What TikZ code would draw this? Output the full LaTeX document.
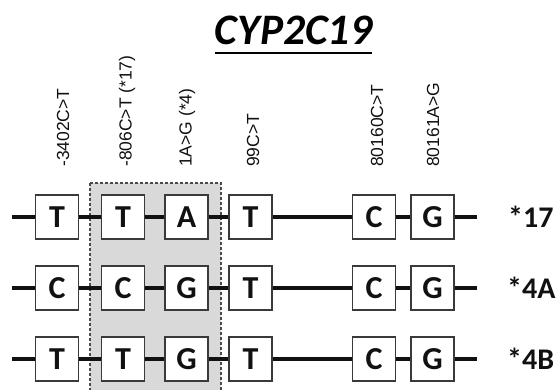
\documentclass[tikz,border=0pt]{standalone}
\usepackage{fontspec}
\setmainfont{Carlito}
\newfontfamily\arialfont{Liberation Sans}
\usepackage{xcolor}
\usetikzlibrary{positioning}
\definecolor{inkP}{HTML}{111111}
\definecolor{boxL}{HTML}{3A3A3A}
\definecolor{shadeG}{HTML}{D9D9D9}
\definecolor{dashL}{HTML}{4A4A4A}
\tikzset{
  allele/.style={draw=boxL, fill=white, line width=1.2pt, minimum width=43pt,
                 minimum height=44pt, inner sep=0pt,
                 font=\fontsize{32}{34}\selectfont\bfseries, text=inkP},
  wire/.style={line width=4.3pt, color=inkP},
  snplab/.style={rotate=90, anchor=west, inner sep=0pt,
                 font=\arialfont\fontsize{17.5}{19}\selectfont, text=inkP},
  haplab/.style={anchor=west, inner sep=0pt,
                 font=\fontsize{30}{32}\selectfont\bfseries, text=inkP},
  region/.style={fill=shadeG, draw=dashL, dash pattern=on 3pt off 2pt,
                 line width=1.3pt},
}

\begin{document}
\begin{tikzpicture}[x=1pt, y=-1pt]
  \useasboundingbox (0,0) rectangle (560,390);
  % title
  \node[inner sep=0pt, anchor=base, font=\fontsize{43.5}{46}\selectfont\bfseries\itshape]
    (title) at (293.5,45) {CYP2C19};
  \draw[line width=2.5pt] ([yshift=-8pt]title.base west) -- ([yshift=-8pt]title.base east);
  % shaded block
  \fill[region] (90,183) rectangle (221,396);
  % SNP names
  \node[snplab] (n1) at (63,167) {-3402C>T};
  \node[snplab] (n2) at (127,167) {-806C>T (*17)};
  \node[snplab] (n3) at (187,167) {1A>G (*4)};
  \node[snplab] (n4) at (253,167) {99C>T};
  \node[snplab] (n5) at (377,167) {80160C>T};
  \node[snplab] (n6) at (433,167) {80161A>G};
  % *17
  \coordinate (s1) at (12,217);
  \coordinate (e1) at (477,217);
  \node[allele] (a1) at (57,217) {T};
  \node[allele] (b1) at (123,217) {T};
  \node[allele] (c1) at (186.5,217) {A};
  \node[allele] (d1) at (250.5,217) {T};
  \node[allele] (f1) at (374,217) {C};
  \node[allele] (g1) at (432.5,217) {G};
  \draw[wire] (s1) -- (a1) -- (b1) -- (c1) -- (d1) -- (f1) -- (g1) -- (e1);
  \node[haplab] (h1) at (508,217) {*17};
  % *4A
  \coordinate (s2) at (12,288);
  \coordinate (e2) at (477,288);
  \node[allele] (a2) at (57,288) {C};
  \node[allele] (b2) at (123,288) {C};
  \node[allele] (c2) at (186.5,288) {G};
  \node[allele] (d2) at (250.5,288) {T};
  \node[allele] (f2) at (374,288) {C};
  \node[allele] (g2) at (432.5,288) {G};
  \draw[wire] (s2) -- (a2) -- (b2) -- (c2) -- (d2) -- (f2) -- (g2) -- (e2);
  \node[haplab] (h2) at (507,288) {*4A};
  % *4B
  \coordinate (s3) at (12,359);
  \coordinate (e3) at (477,359);
  \node[allele] (a3) at (57,359) {T};
  \node[allele] (b3) at (123,359) {T};
  \node[allele] (c3) at (186.5,359) {G};
  \node[allele] (d3) at (250.5,359) {T};
  \node[allele] (f3) at (374,359) {C};
  \node[allele] (g3) at (432.5,359) {G};
  \draw[wire] (s3) -- (a3) -- (b3) -- (c3) -- (d3) -- (f3) -- (g3) -- (e3);
  \node[haplab] (h3) at (507,359) {*4B};
\end{tikzpicture}
\end{document}
